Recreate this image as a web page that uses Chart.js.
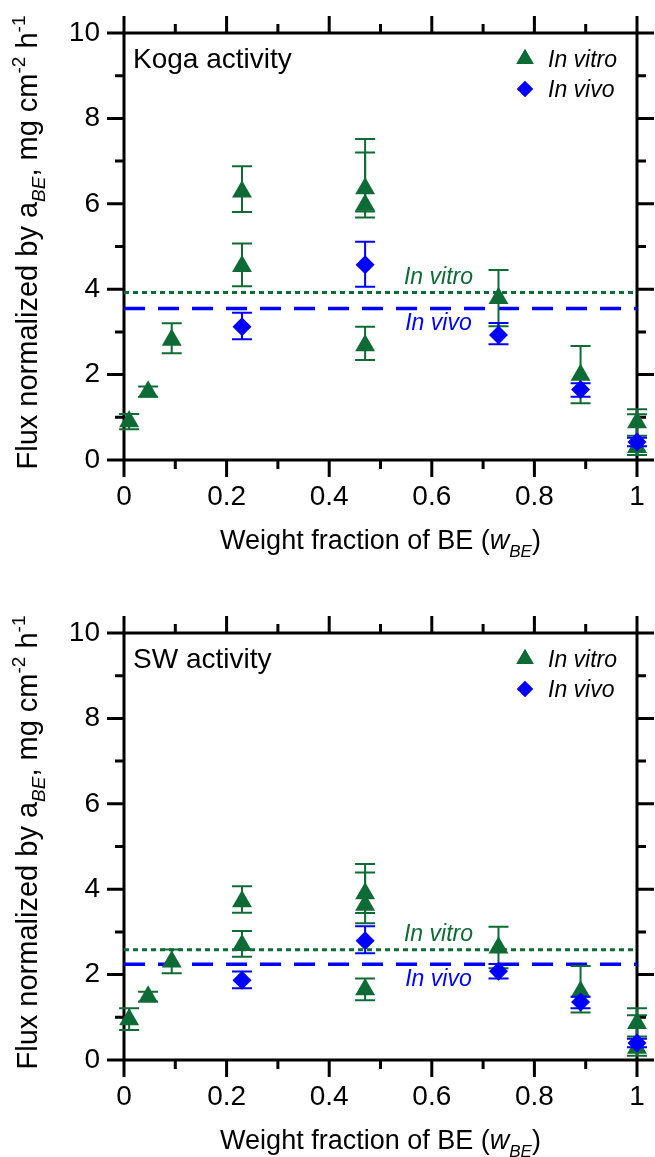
<!DOCTYPE html>
<html>
<head>
<meta charset="utf-8">
<title>Flux normalized by aBE vs weight fraction of BE</title>
<script src="https://cdn.jsdelivr.net/npm/chart.js@4.4.1/dist/chart.umd.min.js"></script>
<style>
  html, body { margin: 0; padding: 0; background: #fff; }
  .panel { position: relative; width: 655px; }
  canvas { display: block; }
</style>
</head>
<body>
<div class="panel" style="height:600px"><canvas id="koga"></canvas></div>
<div class="panel" style="height:557px"><canvas id="sw"></canvas></div>
<script>
// Axis ticks
const xTicks = [0, 0.2, 0.4, 0.6, 0.8, 1];
const xMinorTicks = [0.1, 0.3, 0.5, 0.7, 0.9];
const yTicks = [0, 2, 4, 6, 8, 10];
const yMinorTicks = [1, 3, 5, 7, 9];
const xRange = [0, 1];
const yRange = [0, 10];

// Koga activity, in vitro (value, lower and upper error bar ends)
const kogaVitroX = [0.01, 0.047, 0.093, 0.23, 0.23, 0.47, 0.47, 0.47, 0.73, 0.89, 1, 1];
const kogaVitroY = [0.9, 1.6, 2.81, 6.28, 4.54, 6.36, 5.97, 2.68, 3.79, 1.99, 0.88, 0.3];
const kogaVitroLow = [0.72, 1.48, 2.5, 5.81, 4.07, 5.82, 5.68, 2.34, 3.13, 1.33, 0.57, 0.12];
const kogaVitroHigh = [1.08, 1.72, 3.2, 6.88, 5.07, 7.52, 7.2, 3.12, 4.45, 2.67, 1.19, 1.07];
// Koga activity, in vivo
const kogaVivoX = [0.23, 0.47, 0.73, 0.89, 1];
const kogaVivoY = [3.12, 4.57, 2.93, 1.65, 0.42];
const kogaVivoLow = [2.83, 4.06, 2.71, 1.48, 0.32];
const kogaVivoHigh = [3.45, 5.11, 3.21, 1.8, 0.52];
const kogaVitroMean = 3.92;
const kogaVivoMean = 3.55;

// SW activity, in vitro
const swVitroX = [0.01, 0.047, 0.093, 0.23, 0.23, 0.47, 0.47, 0.47, 0.73, 0.89, 1, 1];
const swVitroY = [0.95, 1.48, 2.3, 3.71, 2.69, 3.9, 3.63, 1.65, 2.63, 1.6, 0.86, 0.28];
const swVitroLow = [0.7, 1.37, 2.03, 3.45, 2.42, 3.2, 3.44, 1.4, 2.15, 1.11, 0.55, 0.1];
const swVitroHigh = [1.21, 1.6, 2.59, 4.07, 3.02, 4.59, 4.39, 1.91, 3.12, 2.2, 1.21, 1.05];
// SW activity, in vivo
const swVivoX = [0.23, 0.47, 0.73, 0.89, 1];
const swVivoY = [1.87, 2.79, 2.08, 1.36, 0.4];
const swVivoLow = [1.68, 2.5, 1.91, 1.21, 0.3];
const swVivoHigh = [2.07, 3.13, 2.25, 1.48, 0.5];
const swVitroMean = 2.58;
const swVivoMean = 2.24;

const GREEN = "#0f6b35";
const BLUE = "#0000ff";
const FONT = '"Liberation Sans", Arial, sans-serif';

const toPoints = (xs, ys) => xs.map((x, i) => ({ x, y: ys[i] }));

// Marker dataset with error bar ends attached
const markerSet = (label, xs, ys, low, high, style, radius, color, order) => ({
  label,
  data: toPoints(xs, ys),
  errLow: low,
  errHigh: high,
  pointStyle: style,
  pointRadius: radius,
  pointHoverRadius: radius,
  backgroundColor: color,
  borderColor: color,
  pointBorderWidth: 0,
  showLine: false,
  clip: false,
  order,
});

// Horizontal mean line across the full x range
const meanLine = (value, color, dash, width) => ({
  data: [{ x: xRange[0], y: value }, { x: xRange[1], y: value }],
  showLine: true,
  borderColor: color,
  borderWidth: width,
  borderDash: dash,
  pointRadius: 0,
  order: 5,
});

// Vertical error bars, drawn just beneath each marker dataset
const errorBars = {
  id: "errorBars",
  beforeDatasetDraw(chart, args) {
    const ds = chart.data.datasets[args.index];
    if (!ds.errLow) return;
    const { ctx, scales: { x, y } } = chart;
    ctx.save();
    ctx.strokeStyle = ds.borderColor;
    ctx.lineWidth = 2;
    ds.data.forEach((p, i) => {
      const px = x.getPixelForValue(p.x);
      const top = y.getPixelForValue(ds.errHigh[i]);
      const bot = y.getPixelForValue(ds.errLow[i]);
      ctx.beginPath();
      ctx.moveTo(px, top);
      ctx.lineTo(px, bot);
      ctx.moveTo(px - 10, top);
      ctx.lineTo(px + 10, top);
      ctx.moveTo(px - 10, bot);
      ctx.lineTo(px + 10, bot);
      ctx.stroke();
    });
    ctx.restore();
  },
};

// Box frame with outward major/minor ticks on all four sides
const frame = {
  id: "frame",
  beforeDatasetsDraw(chart) {
    const { ctx, chartArea: a, scales: { x, y } } = chart;
    ctx.save();
    ctx.strokeStyle = "#000";
    ctx.lineWidth = 3;
    ctx.strokeRect(a.left, a.top, a.right - a.left, a.bottom - a.top);
    ctx.beginPath();
    const xMarks = (vals, len) => vals.forEach((v) => {
      const px = x.getPixelForValue(v);
      ctx.moveTo(px, a.bottom); ctx.lineTo(px, a.bottom + len);
      ctx.moveTo(px, a.top); ctx.lineTo(px, a.top - len);
    });
    const yMarks = (vals, len) => vals.forEach((v) => {
      const py = y.getPixelForValue(v);
      ctx.moveTo(a.left, py); ctx.lineTo(a.left - len, py);
      ctx.moveTo(a.right, py); ctx.lineTo(a.right + len, py);
    });
    xMarks(xTicks, 17);
    xMarks(xMinorTicks, 9);
    yMarks(yTicks, 17);
    yMarks(yMinorTicks, 9);
    ctx.stroke();
    ctx.restore();
  },
};

// Mixed-style text runs: italic, subscript, superscript
const drawRich = (ctx, parts, x0, baseline, size, align) => {
  const fontOf = (p) => `${p.italic ? "italic " : ""}${p.sub || p.sup ? Math.round(size * 0.64) : size}px ${FONT}`;
  const widths = parts.map((p) => { ctx.font = fontOf(p); return ctx.measureText(p.text).width; });
  const total = widths.reduce((s, w) => s + w, 0);
  let cx = align === "center" ? x0 - total / 2 : x0;
  ctx.textAlign = "left";
  ctx.textBaseline = "alphabetic";
  parts.forEach((p, i) => {
    ctx.font = fontOf(p);
    const dy = p.sub ? size * 0.28 : p.sup ? -size * 0.42 : 0;
    ctx.fillText(p.text, cx, baseline + dy);
    cx += widths[i];
  });
};

const xTitle = [
  { text: "Weight fraction of BE (" },
  { text: "w", italic: true },
  { text: "BE", italic: true, sub: true },
  { text: ")" },
];
const yTitle = [
  { text: "Flux normalized by a" },
  { text: "BE", italic: true, sub: true },
  { text: ", mg cm" },
  { text: "-2", sup: true },
  { text: " h" },
  { text: "-1", sup: true },
];

// Axis titles, panel name, legend and mean-line labels
const annotations = {
  id: "annotations",
  afterDraw(chart, args, opts) {
    const { ctx, chartArea: a, scales: { y } } = chart;
    ctx.save();
    ctx.fillStyle = "#000";
    drawRich(ctx, xTitle, (a.left + a.right) / 2, a.bottom + 89, 27, "center");
    ctx.save();
    ctx.translate(37, (a.top + a.bottom) / 2 - 4);
    ctx.rotate(-Math.PI / 2);
    drawRich(ctx, yTitle, 0, 0, 29, "center");
    ctx.restore();

    ctx.font = `28px ${FONT}`;
    ctx.textAlign = "left";
    ctx.textBaseline = "alphabetic";
    ctx.fillText(opts.panel, a.left + 9, a.top + 35);

    // legend
    const markers = chart.data.datasets.filter((d) => d.errLow);
    markers.forEach((d, i) => {
      const my = a.top + 26 + i * 30;
      ctx.fillStyle = d.backgroundColor;
      Chart.helpers.drawPoint(ctx, { pointStyle: d.pointStyle, radius: d.pointStyle === "triangle" ? 10 : 8, rotation: 0, borderWidth: 0 }, a.right - 112, my);
      ctx.fill();
      ctx.fillStyle = "#000";
      ctx.font = `italic 23px ${FONT}`;
      ctx.fillText(d.label, a.right - 89, my + 8);
    });

    // labels on the mean lines
    const labelX = chart.scales.x.getPixelForValue(opts.lineLabelAt);
    ctx.font = `italic 23px ${FONT}`;
    ctx.textAlign = "center";
    ctx.textBaseline = "middle";
    ctx.fillStyle = GREEN;
    ctx.fillText("In vitro", labelX, y.getPixelForValue(opts.vitroMean) - 15);
    ctx.fillStyle = BLUE;
    ctx.fillText("In vivo", labelX, y.getPixelForValue(opts.vivoMean) + 15);
    ctx.restore();
  },
};

const buildPanel = (canvasId, panel, vitro, vivo, vitroMean, vivoMean, xScaleHeight) => {
  new Chart(document.getElementById(canvasId), {
    type: "scatter",
    data: {
      datasets: [
        markerSet("In vivo", vivo[0], vivo[1], vivo[2], vivo[3], "rectRot", 9.5, BLUE, 0),
        markerSet("In vitro", vitro[0], vitro[1], vitro[2], vitro[3], "triangle", 11.5, GREEN, 1),
        meanLine(vitroMean, GREEN, [5, 4], 3),
        meanLine(vivoMean, BLUE, [21, 13], 3.5),
      ].reverse(),
    },
    options: {
      responsive: true,
      maintainAspectRatio: false,
      animation: false,
      events: [],
      layout: { padding: { top: 33, right: 18, left: 0, bottom: 0 } },
      plugins: {
        legend: { display: false },
        tooltip: { enabled: false },
        annotations: { panel, vitroMean, vivoMean, lineLabelAt: 0.613 },
      },
      scales: {
        x: {
          type: "linear",
          min: xRange[0],
          max: xRange[1],
          grid: { display: false, drawTicks: false },
          border: { display: false },
          afterBuildTicks: (s) => { s.ticks = xTicks.map((v) => ({ value: v })); },
          afterFit: (s) => {
            s.height = xScaleHeight;
            s.paddingLeft = 0;
            s.paddingRight = 0;
          },
          ticks: {
            color: "#000",
            padding: 20,
            font: { size: 28, family: FONT },
            callback: (v) => String(Number(v.toFixed(1))),
          },
        },
        y: {
          type: "linear",
          min: yRange[0],
          max: yRange[1],
          grid: { display: false, drawTicks: false },
          border: { display: false },
          afterBuildTicks: (s) => { s.ticks = yTicks.map((v) => ({ value: v })); },
          afterFit: (s) => {
            s.width = 124;
            s.paddingTop = 0;
            s.paddingBottom = 0;
          },
          ticks: {
            color: "#000",
            padding: 24,
            font: { size: 28, family: FONT },
          },
        },
      },
    },
    plugins: [frame, errorBars, annotations],
  });
};

buildPanel("koga", "Koga activity",
  [kogaVitroX, kogaVitroY, kogaVitroLow, kogaVitroHigh],
  [kogaVivoX, kogaVivoY, kogaVivoLow, kogaVivoHigh],
  kogaVitroMean, kogaVivoMean, 140);

buildPanel("sw", "SW activity",
  [swVitroX, swVitroY, swVitroLow, swVitroHigh],
  [swVivoX, swVivoY, swVivoLow, swVivoHigh],
  swVitroMean, swVivoMean, 97);
</script>
</body>
</html>
